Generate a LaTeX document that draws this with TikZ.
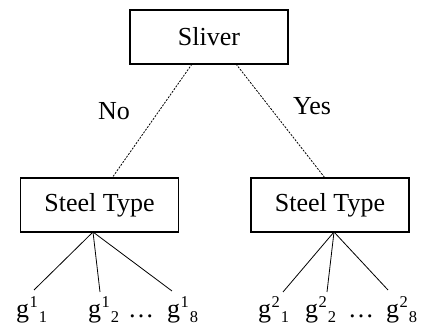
\documentclass[tikz,border=0pt]{standalone}
\usepackage{fontspec}
\setmainfont{Liberation Serif}
\newcommand\glab[2]{g\kern0.5pt\raisebox{10pt}{\fontsize{16.5}{16}\selectfont #1}\kern1pt\raisebox{-5pt}{\fontsize{16.5}{16}\selectfont #2}}
\begin{document}
\begin{tikzpicture}[x=1pt,y=-1pt,
  box/.style={draw,line width=1.6pt,minimum width=158pt,minimum height=54pt,inner sep=0pt,font=\fontsize{26}{30}\selectfont},
  lab/.style={inner sep=0pt,anchor=base west,font=\fontsize{26}{30}\selectfont},
  dashline/.style={line width=0.8pt,dash pattern=on 2pt off 1.3pt},
  branch/.style={line width=0.8pt}]
\useasboundingbox (0,0) rectangle (421,328);
\node[box] (s) at (209,37) {Sliver};
\node[box] (l) at (99.5,205) {Steel Type};
\node[box] (r) at (330,205) {Steel Type};
\coordinate (s1) at (192,64);
\coordinate (s2) at (236,64);
\coordinate (lt) at (112,178);
\coordinate (rt) at (325,178);
\draw[dashline] (s1) -- (lt);
\draw[dashline] (s2) -- (rt);
\node[lab,anchor=center] (no) at (114,111) {No};
\node[lab,anchor=center] (yes) at (312,106) {Yes};
\coordinate (la) at (93,232);
\coordinate (ra) at (334,232);
\node[lab] (g11) at (16,318) {\glab{1}{1}};
\node[lab] (g12) at (88,318) {\glab{1}{2}};
\node[lab] (d1) at (128,318) {\dots};
\node[lab] (g18) at (167,318) {\glab{1}{8}};
\node[lab] (g21) at (258,318) {\glab{2}{1}};
\node[lab] (g22) at (305,318) {\glab{2}{2}};
\node[lab] (d2) at (348,318) {\dots};
\node[lab] (g28) at (386,318) {\glab{2}{8}};
\coordinate (e11) at (34,290);
\coordinate (e12) at (100,292);
\coordinate (e18) at (172,291);
\coordinate (e21) at (283,292);
\coordinate (e22) at (327,292);
\coordinate (e28) at (388,290);
\draw[branch] (la) -- (e11);
\draw[branch] (la) -- (e12);
\draw[branch] (la) -- (e18);
\draw[branch] (ra) -- (e21);
\draw[branch] (ra) -- (e22);
\draw[branch] (ra) -- (e28);
\end{tikzpicture}
\end{document}
